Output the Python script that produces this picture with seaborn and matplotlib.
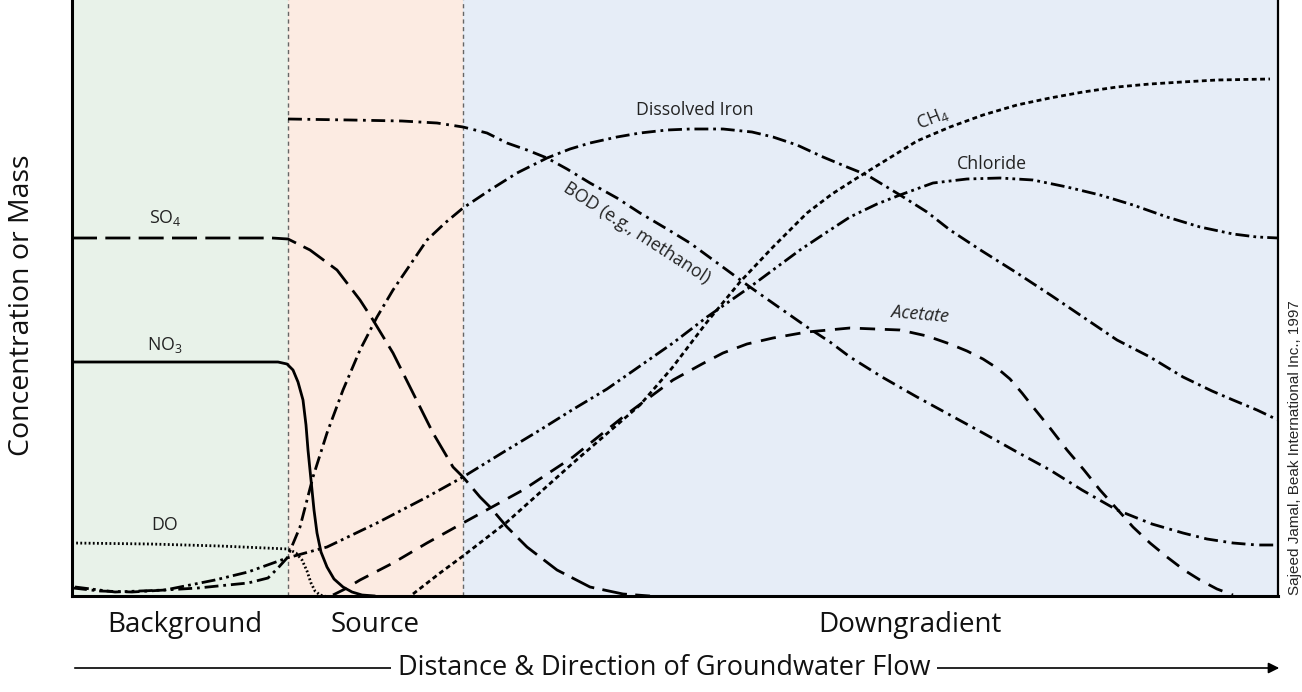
import numpy as np
import pandas as pd
import matplotlib.pyplot as plt
import seaborn as sns

# =============================================================================
# DATA (distance along flow, concentration in arbitrary units)
# =============================================================================
zonas = ['Background', 'Source', 'Downgradient']
limites_zonas = [0, 216, 391, 1206]
colores_zonas = ['#e8f2e9', '#fcebe2', '#e6edf7']

so4_x = [0, 200, 216, 238, 265, 288, 301, 321, 341, 361, 381, 391, 408, 418, 435, 455, 485, 518, 551, 578]
so4_y = [358, 358, 357, 346, 326, 296, 276, 243, 203, 163, 129, 119, 99, 89, 69, 49, 26, 9, 2, 0]

no3_x = [0, 206, 215, 221, 226, 231, 234, 236, 238, 240, 242, 245, 249, 255, 262, 271, 280, 290, 303]
no3_y = [234, 234, 232, 226, 214, 196, 171, 146, 126, 106, 86, 63, 44, 29, 17, 9, 4, 1, 0]

do_x = [0, 78, 148, 216, 224, 230, 235, 239, 243, 248, 253]
do_y = [53, 52, 50, 47, 43, 36, 25, 13, 5, 1, 0]

hierro_x = [1, 28, 60, 126, 176, 196, 206, 215, 228, 241, 255, 271, 288, 305, 321, 355, 373, 391, 418,
            445, 475, 498, 518, 545, 568, 595, 618, 651, 680, 701, 725, 751, 775, 795, 828, 855, 878,
            910, 945, 980, 1011, 1045, 1078, 1111, 1140, 1161, 1185, 1206]
hierro_y = [8, 5, 4, 8, 13, 18, 28, 38, 69, 119, 163, 206, 246, 279, 306, 356, 373, 388, 406,
            423, 438, 447, 453, 459, 463, 466, 467, 467, 464, 459, 451, 439, 429, 421, 401, 384, 366,
            345, 323, 300, 279, 256, 239, 219, 205, 196, 186, 176]

bod_x = [216, 278, 330, 365, 391, 415, 435, 455, 475, 495, 518, 545, 568, 595, 618, 648, 678, 705, 735,
         758, 778, 810, 845, 878, 911, 945, 978, 1010, 1045, 1080, 1111, 1135, 1161, 1185, 1206]
bod_y = [477, 476, 475, 473, 469, 463, 453, 446, 438, 427, 413, 398, 383, 367, 353, 331, 309, 290, 269,
         254, 239, 219, 199, 181, 163, 144, 126, 106, 86, 72, 63, 57, 53, 51, 51]

cloruro_x = [3, 43, 93, 143, 176, 215, 255, 305, 355, 391, 430, 468, 500, 535, 568, 601, 635, 678, 705,
             728, 755, 778, 805, 828, 861, 895, 928, 961, 995, 1028, 1061, 1095, 1128, 1161, 1185, 1206]
cloruro_y = [9, 4, 6, 16, 24, 38, 49, 73, 99, 119, 143, 166, 186, 207, 230, 253, 279, 309, 329,
             346, 364, 379, 392, 401, 413, 417, 418, 416, 409, 401, 391, 379, 369, 362, 359, 358]

acetato_x = [261, 273, 288, 321, 355, 391, 451, 501, 551, 601, 630, 651, 675, 701, 735, 778, 828, 855,
             878, 895, 911, 925, 938, 950, 961, 978, 995, 1012, 1028, 1045, 1061, 1078, 1095, 1112, 1128,
             1145, 1161]
acetato_y = [1, 7, 16, 33, 53, 73, 106, 139, 179, 216, 232, 243, 252, 258, 264, 268, 266, 260,
             252, 245, 237, 228, 217, 203, 189, 168, 146, 126, 106, 87, 69, 53, 39, 26, 16, 7, 1]

ch4_x = [341, 368, 391, 435, 501, 568, 600, 635, 668, 701, 735, 760, 785, 811, 845, 878, 911, 945,
         978, 1011, 1045, 1078, 1110, 1145, 1198]
ch4_y = [2, 23, 40, 74, 133, 191, 228, 274, 314, 349, 383, 402, 418, 434, 455, 469, 481, 491,
         498, 504, 509, 512, 514, 516, 517]

# =============================================================================
# FIGURE
# =============================================================================
sns.set_theme(style='white')
plt.rcParams['font.family'] = ['Open Sans', 'DejaVu Sans']
plt.rcParams['lines.scale_dashes'] = False

curvas = {
    'SO4': (so4_x, so4_y),
    'NO3': (no3_x, no3_y),
    'DO': (do_x, do_y),
    'Hierro': (hierro_x, hierro_y),
    'BOD': (bod_x, bod_y),
    'Cloruro': (cloruro_x, cloruro_y),
    'Acetato': (acetato_x, acetato_y),
    'CH4': (ch4_x, ch4_y),
}
df = pd.concat([pd.DataFrame({'distancia': x, 'conc': y, 'especie': k})
                for k, (x, y) in curvas.items()], ignore_index=True)

estilos = {
    'SO4': (18, 6),
    'NO3': '',
    'DO': (1.3, 1.7),
    'Hierro': (10, 3.5, 2, 3.5),
    'BOD': (10, 4, 2, 4),
    'Cloruro': (10, 3, 2, 3, 2, 3),
    'Acetato': (11, 7),
    'CH4': (3.5, 2.5),
}

fig = plt.figure(figsize=(13.02, 6.92), dpi=100)
ax = fig.add_axes([72 / 1302, 1 - 596 / 692, 1206 / 1302, 596 / 692])

for i, c in enumerate(colores_zonas):
    ax.axvspan(limites_zonas[i], limites_zonas[i + 1], color=c, lw=0, zorder=0)
for xb in limites_zonas[1:3]:
    ax.axvline(xb, color='#666666', lw=1, ls=(0, (3, 2.5)), zorder=1)

sns.lineplot(data=df, x='distancia', y='conc', style='especie', dashes=estilos,
             color='black', lw=2.0, estimator=None, sort=False, legend=False, ax=ax)

ax.set_xlim(limites_zonas[0], limites_zonas[-1])
ax.set_ylim(0, 596)
ax.set_xticks([])
ax.set_yticks([])
ax.set_xlabel('')
ax.set_ylabel('')
ax.spines['top'].set_visible(False)
for s in ['left', 'bottom']:
    ax.spines[s].set_linewidth(2.2)
    ax.spines[s].set_color('black')
ax.spines['right'].set_linewidth(1.6)
ax.spines['right'].set_color('black')

# Etiquetas de las curvas
col_txt = '#222222'
fs = 12.8
ax.text(93, 378, r'SO$_\mathregular{4}$', ha='center', va='center', fontsize=fs, color=col_txt)
ax.text(93, 251, r'NO$_\mathregular{3}$', ha='center', va='center', fontsize=fs, color=col_txt)
ax.text(93, 71, 'DO', ha='center', va='center', fontsize=fs, color=col_txt)
ax.text(623, 486, 'Dissolved Iron', ha='center', va='center', fontsize=fs, color=col_txt)
ax.text(565, 363, 'BOD (e.g., methanol)', ha='center', va='center', fontsize=fs,
        color=col_txt, rotation=-33, rotation_mode='anchor')
ax.text(861, 478, r'CH$_\mathregular{4}$', ha='center', va='center', fontsize=fs,
        color=col_txt, rotation=22, rotation_mode='anchor')
ax.text(920, 432, 'Chloride', ha='center', va='center', fontsize=fs, color=col_txt)
ax.text(848, 281, 'Acetate', ha='center', va='center', fontsize=fs, color=col_txt,
        rotation=-5, rotation_mode='anchor', style='italic')

# Zonas y ejes
for nombre, xc in zip(zonas, [185, 375, 910]):
    fig.text(xc / 1302, 1 - 625 / 692, nombre, ha='center', va='center', fontsize=20, color='#111111')

fig.text(22 / 1302, 1 - 305 / 692, 'Concentration or Mass', rotation=90, ha='center', va='center',
         fontsize=20.5, color='#111111')

ax.annotate('', xy=(1282 / 1302, 1 - 668 / 692), xytext=(72 / 1302, 1 - 668 / 692),
            xycoords='figure fraction', textcoords='figure fraction',
            arrowprops=dict(arrowstyle='-|>', color='black', lw=1.2, mutation_scale=16))
fig.text(664 / 1302, 1 - 668 / 692, 'Distance & Direction of Groundwater Flow', ha='center', va='center',
         fontsize=19.5, color='#111111', zorder=5,
         bbox=dict(facecolor='white', edgecolor='none', pad=5))

fig.text(1295 / 1302, 1 - 448 / 692, 'Sajeed Jamal, Beak International Inc., 1997', rotation=90,
         ha='center', va='center', fontsize=11, family=['Liberation Sans', 'DejaVu Sans'])

fig.savefig('out.png', dpi=100)
